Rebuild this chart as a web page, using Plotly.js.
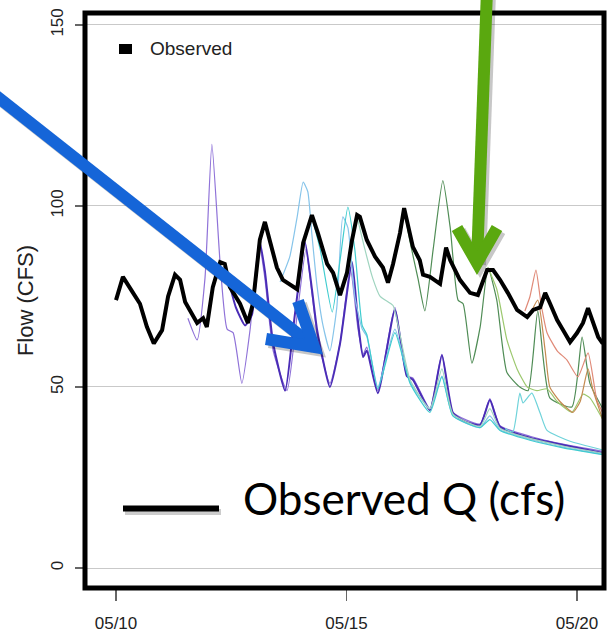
<!DOCTYPE html>
<html>
<head>
<meta charset="utf-8">
<script src="https://cdn.plot.ly/plotly-3.0.1.min.js"></script>
<style>html,body{margin:0;padding:0;background:#fff}#chart{width:616px;height:635px}</style>
</head>
<body>
<div id="chart"></div>
<script>
// ---- data (x = day of May, y = flow in CFS) ----
const obsDay = [10.00,10.15,10.37,10.52,10.67,10.82,11.00,11.13,11.28,11.39,11.50,11.61,11.76,11.89,11.97,12.10,12.26,12.36,12.47,12.69,12.86,12.97,13.12,13.23,13.34,13.49,13.62,13.84,13.93,14.06,14.25,14.38,14.58,14.71,14.86,15.01,15.12,15.23,15.29,15.44,15.62,15.79,15.90,16.01,16.16,16.25,16.33,16.44,16.59,16.66,16.81,17.03,17.16,17.25,17.46,17.68,17.85,18.05,18.18,18.33,18.50,18.70,18.92,19.05,19.20,19.31,19.41,19.57,19.70,19.85,20.00,20.13,20.24,20.35,20.46,20.56];
const obsQ   = [74,80.4,76,73,66.6,62,65.7,75,81,79.6,73.5,71,67.7,69,66.6,77.6,84.5,84,77.6,73,67.7,73,90.6,95.6,90.6,83,79.6,77.6,77,89.8,97.5,92.5,84,81.5,75.4,81.5,90.6,97.5,97,90.6,86,83,78.8,84,92.5,99.4,95.3,88.7,85,81,80.4,78.5,88.5,85,79.6,76,75.4,82.3,82.3,79.6,76,71.3,69.3,71.3,72,76,73.2,68.5,65.7,62.4,64.9,67.7,71.8,67.7,63.8,62];

const fc1Day = [11.56,11.76,11.93,12.08,12.26,12.41,12.54,12.73,12.91,13.10,13.23,13.41,13.71,13.93,14.12,14.25,14.38,14.64,14.86,15.08,15.25,15.36,15.44,15.68,16.05,16.31,16.44,16.81,17.07,17.31,17.90,18.11,18.33,18.98,19.70,20.56];
const fc1Q   = [69,63,80,117,84,66,65,51,66,90,80,60,49,70,88,76,63,51,62,83,66,59,61,49,72,53,52.5,44,59,43,39.8,46.8,39.3,36.4,34.2,32.2];

const fc2Day = [12.43,12.60,12.80,12.95,13.12,13.23,13.41,13.67,13.88,14.10,14.25,14.36,14.64,14.86,15.12,15.25,15.36,15.44,15.68,16.05,16.31,16.44,16.81,17.07,17.31,17.57,17.90,18.11,18.33,18.98,19.70,20.56];
const fc2Q   = [80,72,67,70,90,82,62,49,70,90,77,66,50,62,84.5,68,58.3,60,48.3,71.3,53,52,43.6,58.8,42.8,40.5,39.5,46.4,39,36,34,31.8];

const fc3Day = [13.56,13.77,13.93,14.06,14.16,14.25,14.36,14.49,14.64,14.79,14.92,15.03,15.18,15.34,15.44,15.68,16.05,16.38,16.81,17.07,17.31,17.90,18.11,18.33,18.98,19.70,20.56];
const fc3Q   = [79,86,97,106.6,104,92,78,67,60,72,97,94,75,66,64,50,66,51.5,44,53,42,38.8,42,38.2,35.5,33.4,31.4];

const fc4Day = [14.25,14.43,14.69,14.86,15.03,15.18,15.34,15.44,15.68,16.05,16.38,16.81,17.07,17.31,17.90,18.11,18.33,18.98,19.70,20.56];
const fc4Q   = [97,88,70.7,85,99.7,88,67,64.5,49.5,65,51,43,52.8,42,38.8,41,38,35.3,33.2,31.3];

const fc5Day = [15.23,15.40,15.57,15.73,16.01,16.12,16.38,16.81,17.07,17.31,17.90,18.11,18.33,18.98,19.70,20.56];
const fc5Q   = [97,88,80,75,72.5,67,52,44,55,42.5,39.2,44,38.6,35.8,33.7,31.7];

const fc6Day = [16.25,16.38,16.55,16.70,16.88,17.09,17.25,17.42,17.53,17.72,17.90,18.07,18.26,18.48,18.76,18.94,19.15,19.41,19.89,20.11,20.28,20.56];
const fc6Q   = [99,90,80,71,88,107,94,74,73,56.6,66.6,83,74,54,50,49,71,47,44.5,63.8,51,44];

const fc7Day = [18.07,18.26,18.48,18.70,18.92,19.13,19.35,19.57,19.89,20.13,20.28,20.56];
const fc7Q   = [83,77,63,55,50,49,49.5,46,43,48,47,41];

const fc8Day = [18.87,18.98,19.11,19.22,19.35,19.57,19.78,20.02,20.24,20.43,20.56];
const fc8Q   = [71,75,82.3,73,65,60,57.5,52.8,59.4,46.4,42.8];

const fc9Day = [18.98,19.15,19.31,19.41,19.63,19.91,20.07,20.24,20.35,20.56];
const fc9Q   = [70,74,60,50,46,43,46,55,49,41];

const fc10Day = [18.44,18.61,18.76,18.83,19.02,19.20,19.35,19.85,20.56];
const fc10Q   = [38.5,37.6,48.3,45.6,48.3,42.8,38,35,32.6];

const yTicks = [0, 50, 100, 150];
const legendLabel = "Observed";
const calloutLabel = "Observed Q (cfs)";
const yTitle = "Flow (CFS)";

// ---- helpers ----
function toDate(d) {
  return new Date(Date.UTC(2013, 4, 1) + (d - 1) * 864e5).toISOString().replace('T', ' ').slice(0, 19);
}
// page pixel -> paper coordinates (plot area 85..604 x, 13..588 y)
const PL = 85, PR = 604, PT = 13, PB = 588;
function px(x) { return (x - PL) / (PR - PL); }
function py(y) { return (PB - y) / (PB - PT); }

const forecasts = [
  {d: fc1Day, q: fc1Q, color: '#8f72d8', w: 1.2},
  {d: fc2Day, q: fc2Q, color: '#4a2cb6', w: 2.0},
  {d: fc3Day, q: fc3Q, color: '#86c4ea', w: 1.2},
  {d: fc4Day, q: fc4Q, color: '#3fcccf', w: 1.2},
  {d: fc5Day, q: fc5Q, color: '#9fd4bf', w: 1.2},
  {d: fc6Day, q: fc6Q, color: '#4f8c55', w: 1.2},
  {d: fc7Day, q: fc7Q, color: '#9cc86e', w: 1.2},
  {d: fc8Day, q: fc8Q, color: '#e08a78', w: 1.2},
  {d: fc9Day, q: fc9Q, color: '#c48a50', w: 1.2},
  {d: fc10Day, q: fc10Q, color: '#6fd3da', w: 1.2}
];

const traces = forecasts.map(f => ({
  x: f.d.map(toDate), y: f.q, type: 'scatter', mode: 'lines',
  line: {color: f.color, width: f.w, shape: 'spline', smoothing: 0.5}, showlegend: false, hoverinfo: 'skip'
}));
traces.push({
  x: obsDay.map(toDate), y: obsQ, type: 'scatter', mode: 'lines',
  line: {color: '#000000', width: 4}, showlegend: false, hoverinfo: 'skip'
});

function pathStr(pts) {
  return pts.map((p, i) => (i ? 'L ' : 'M ') + px(p[0]) + ' ' + py(p[1])).join(' ');
}
function arrowShapes(shaft, head, color, w) {
  const sh = 'rgba(0,0,0,0.22)';
  const off = p => [p[0] + 3, p[1] + 3];
  return [
    {type: 'path', xref: 'paper', yref: 'paper', path: pathStr(shaft.map(off)), line: {color: sh, width: w}, fillcolor: 'rgba(0,0,0,0)'},
    {type: 'path', xref: 'paper', yref: 'paper', path: pathStr(head.map(off)), line: {color: sh, width: w}, fillcolor: 'rgba(0,0,0,0)'},
    {type: 'path', xref: 'paper', yref: 'paper', path: pathStr(shaft), line: {color: color, width: w}, fillcolor: 'rgba(0,0,0,0)'},
    {type: 'path', xref: 'paper', yref: 'paper', path: pathStr(head), line: {color: color, width: w}, fillcolor: 'rgba(0,0,0,0)'}
  ];
}

const shapes = [].concat(
  [{type: 'rect', xref: 'paper', yref: 'paper', x0: 0, x1: 1, y0: 0, y1: 1, line: {color: '#000', width: 5}, fillcolor: 'rgba(0,0,0,0)'}],
  // legend square
  [{type: 'rect', xref: 'paper', yref: 'paper', x0: px(119), x1: px(132), y0: py(54), y1: py(44), line: {width: 0}, fillcolor: '#000'}],
  // callout line sample
  [{type: 'line', xref: 'paper', yref: 'paper', x0: px(125), x1: px(221), y0: py(512), y1: py(512), line: {color: 'rgba(0,0,0,0.2)', width: 6}},
   {type: 'line', xref: 'paper', yref: 'paper', x0: px(123), x1: px(219), y0: py(508.5), y1: py(508.5), line: {color: '#000', width: 6}}],
  arrowShapes([[-10, 91], [312, 345]], [[266, 339], [314, 347], [298, 301]], '#1565d8', 12),
  arrowShapes([[487, -10], [477, 262]], [[457, 228], [477, 263], [497, 228]], '#5aa80f', 12)
);

const layout = {
  width: 616, height: 635,
  margin: {l: PL, r: 616 - PR, t: PT, b: 635 - PB, pad: 0},
  paper_bgcolor: '#fff', plot_bgcolor: '#fff',
  showlegend: false,
  font: {family: 'Liberation Sans, Arial, sans-serif', color: '#222'},
  xaxis: {
    type: 'date', range: [toDate(9.3275), toDate(20.586)],
    tick0: '2013-05-10', dtick: 5 * 864e5, tickformat: '%m/%d',
    ticks: 'outside', ticklen: 12, tickwidth: 1.5, tickcolor: '#666',
    showgrid: false, zeroline: false, showline: false,
    tickfont: {family: 'Liberation Sans, Arial, sans-serif', size: 17, color: '#222'},
    ticklabelstandoff: 8
  },
  yaxis: {
    range: [-5.52, 153.3], tickvals: yTicks, ticktext: yTicks.map(String), tickangle: -90,
    ticks: 'outside', ticklen: 9, tickwidth: 1.5, tickcolor: '#666',
    showgrid: true, gridcolor: '#c9c9c9', gridwidth: 1, zeroline: false, showline: false,
    tickfont: {family: 'Liberation Sans, Arial, sans-serif', size: 17, color: '#222'},
    ticklabelstandoff: 5,
    title: {text: yTitle, font: {family: 'Liberation Sans, Arial, sans-serif', size: 22, color: '#222'}, standoff: 8}
  },
  shapes: shapes,
  annotations: [
    {xref: 'paper', yref: 'paper', x: px(148), y: py(49), xanchor: 'left', yanchor: 'middle', showarrow: false,
     text: legendLabel, font: {family: 'Liberation Sans, Arial, sans-serif', size: 19, color: '#222'}},
    {xref: 'paper', yref: 'paper', x: px(241), y: py(498), xanchor: 'left', yanchor: 'middle', showarrow: false,
     text: calloutLabel, font: {family: 'Lato, sans-serif', size: 44, color: '#000'}}
  ]
};

Plotly.newPlot('chart', traces, layout, {displayModeBar: false, staticPlot: true});
</script>
</body>
</html>
